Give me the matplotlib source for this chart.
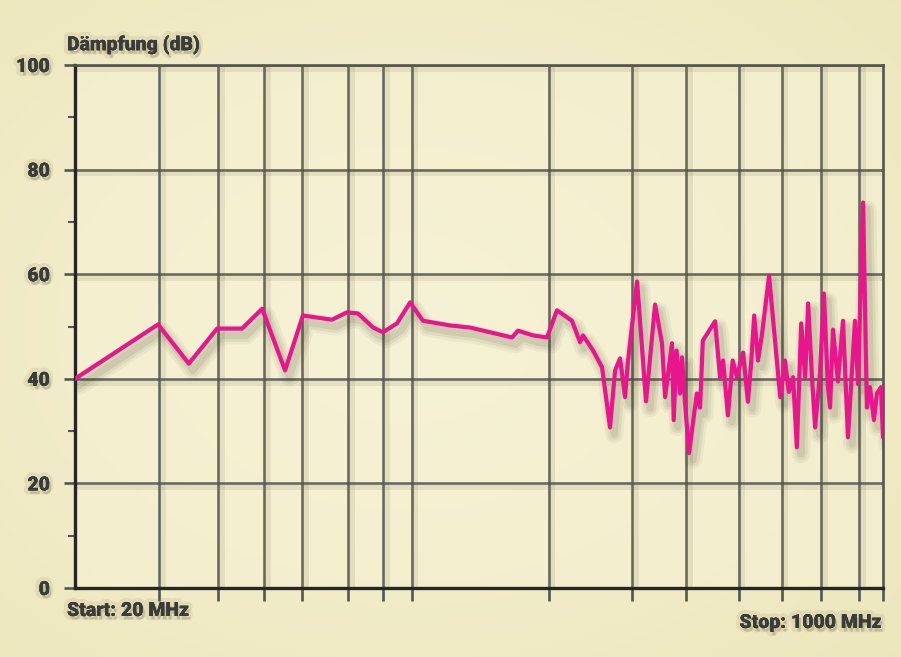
import numpy as np
import matplotlib
matplotlib.use("Agg")
import matplotlib.pyplot as plt
import matplotlib.patheffects as pe
from matplotlib.ticker import FixedLocator, NullFormatter

# ---------------- data ----------------
freq_mhz = [20, 29.9, 34.7, 39.8, 44.9, 49.5, 55.3, 60.3, 69.4, 74.6, 78.7, 84.7, 88.8,
            95.1, 101.3, 107.8, 122.9, 135.4, 149.2, 165.9, 170.8, 183.7, 196.6,
            206.3, 221.8, 230.7, 234.0, 245.7, 256.6, 266.7, 273.3, 280.0, 286.8,
            291, 304, 317.5, 331.7, 343, 348.2, 360, 363, 368, 374.4, 378, 383.5,
            391, 406, 412.4, 418, 443.5, 454.4, 461, 472, 483, 493, 503, 508, 520,
            528, 536, 546, 557, 576, 608, 622, 634, 647, 659, 673, 686, 696, 709,
            720, 737, 751, 766, 774, 785, 804, 824, 844, 873, 886, 908, 925, 939,
            957, 971, 990, 1000]
daempfung_db = [40.0, 50.4, 42.9, 49.6, 49.6, 53.4, 41.6, 52.1, 51.3, 52.7, 52.5, 49.8, 48.9,
                50.6, 54.6, 51.1, 50.2, 49.8, 48.9, 47.9, 49.2, 48.3, 47.9,
                53.1, 51.1, 47.0, 48.3, 45.4, 42.2, 30.7, 41.6, 43.9, 36.5,
                43.5, 58.6, 35.7, 54.2, 46.8, 36.5, 46.8, 32.1, 45.4, 37.2, 44.1, 35.3,
                25.8, 37.2, 34.5, 47.3, 51.0, 40.3, 43.5, 33.0, 43.5, 40.3, 43.5, 45.0, 35.6,
                42.9, 52.1, 43.5, 48.7, 59.7, 36.5, 43.5, 37.5, 40.3, 26.9, 50.6, 40.3, 54.4, 40.3,
                30.7, 41.0, 56.3, 38.5, 34.5, 49.4, 39.5, 51.1, 28.8, 51.1, 39.0, 73.7, 34.5, 38.4,
                32.1, 37.2, 38.4, 28.8]

grid_freqs = [30, 40, 50, 60, 75, 89, 102, 198, 297, 386, 497, 612, 741, 890]
y_major = [0, 20, 40, 60, 80, 100]
y_minor = [10, 30, 50, 70, 90]
y_title = "Dämpfung (dB)"
start_label = "Start: 20 MHz"
stop_label = "Stop: 1000 MHz"

# ---------------- style ----------------
W, H = 901, 657
fig = plt.figure(figsize=(W / 100, H / 100), dpi=100)
fig.patch.set_facecolor("#eee8bf")

# soft background glow
bg = fig.add_axes([0, 0, 1, 1], zorder=0)
yy, xx = np.mgrid[0:1:200j, 0:1:300j]
r = np.sqrt(((xx - 0.45) / 0.75) ** 2 + ((yy - 0.5) / 0.75) ** 2)
c_in = np.array([0.965, 0.95, 0.84])
c_out = np.array([0.93, 0.905, 0.74])
t = np.clip(r, 0, 1)[..., None]
img = c_in * (1 - t) + c_out * t
bg.imshow(img, extent=[0, 1, 0, 1], aspect="auto", origin="lower")
bg.set_axis_off()

ax = fig.add_axes([75 / W, 1 - 588 / H, 808 / W, (588 - 65) / H], zorder=2)
ax.set_facecolor((0.965, 0.95, 0.83, 0.55))
ax.set_xscale("log")
ax.set_xlim(20, 1000)
ax.set_ylim(0, 100)

grid_col = "#55554f"
grid_shadow = [pe.SimpleLineShadow(offset=(2, -2), shadow_color="#6b6440", alpha=0.12, linewidth=5),
               pe.Normal()]
for f in grid_freqs:
    ax.axvline(f, color=grid_col, lw=1.9, zorder=1, alpha=0.85, path_effects=grid_shadow)
for v in y_major[1:]:
    ax.axhline(v, color=grid_col, lw=1.9, zorder=1, alpha=0.85, path_effects=grid_shadow)

for side in ["top", "right"]:
    ax.spines[side].set_color(grid_col)
    ax.spines[side].set_linewidth(1.9)
for side in ["left", "bottom"]:
    ax.spines[side].set_color("#262626")
    ax.spines[side].set_linewidth(2.4)

ax.xaxis.set_major_locator(FixedLocator(grid_freqs + [1000]))
ax.xaxis.set_minor_locator(FixedLocator([]))
ax.xaxis.set_major_formatter(NullFormatter())
ax.xaxis.set_minor_formatter(NullFormatter())
ax.tick_params(axis="x", which="major", length=9, width=1.9, color=grid_col, direction="out")

ax.yaxis.set_major_locator(FixedLocator(y_major))
ax.yaxis.set_minor_locator(FixedLocator(y_minor))
ax.tick_params(axis="y", which="major", length=8, width=1.9, color=grid_col,
               direction="out", pad=10, labelsize=14, labelcolor="#3b3b38")
ax.tick_params(axis="y", which="minor", length=5, width=1.5, color=grid_col, direction="out")

txt_shadow = [pe.withStroke(linewidth=6, foreground=(0.40, 0.37, 0.22, 0.10)),
              pe.withSimplePatchShadow(offset=(1.5, -2.5), shadow_rgbFace="#000000", alpha=0.14)]
for lab in ax.get_yticklabels():
    lab.set_fontfamily("Roboto")
    lab.set_fontweight("heavy")
    lab.set_path_effects(txt_shadow)

line_shadow = [pe.SimpleLineShadow(offset=(3, -5), shadow_color="#3a3520", alpha=a, linewidth=lw)
               for a, lw in ((0.05, 13), (0.07, 9), (0.09, 5))]
ax.plot(freq_mhz, daempfung_db, color="#e8158c", lw=3.0, zorder=5,
        solid_joinstyle="round", solid_capstyle="round",
        path_effects=line_shadow + [pe.Normal()])

tkw = dict(fontfamily="Roboto", fontweight="heavy", fontsize=14, color="#3b3b38",
           path_effects=txt_shadow)
fig.text(67 / W, 1 - 45 / H, y_title, ha="left", va="center", **tkw)
fig.text(67 / W, 1 - 611 / H, start_label, ha="left", va="center", **tkw)
fig.text(882 / W, 1 - 623 / H, stop_label, ha="right", va="center", **tkw)

fig.savefig("out.png", dpi=100, facecolor=fig.get_facecolor())
